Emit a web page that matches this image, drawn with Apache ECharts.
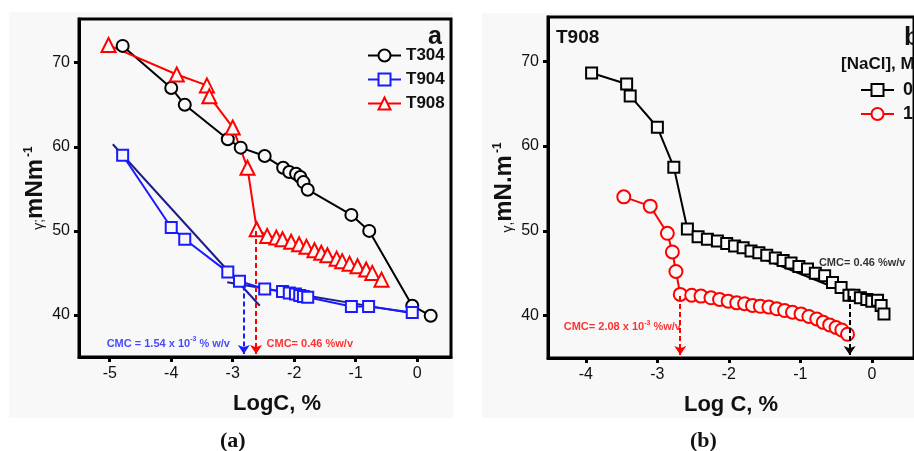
<!DOCTYPE html>
<html><head><meta charset="utf-8">
<script src="https://cdn.jsdelivr.net/npm/echarts@6/dist/echarts.min.js"></script>
<style>html,body{margin:0;padding:0;background:#fff}#c{width:914px;height:451px}</style>
</head><body><div id="c"></div>
<script>
const FONT = "'Liberation Sans', Arial, sans-serif";
const SERIF = "'Liberation Serif', 'DejaVu Serif', serif";
const BG = '#f8f8f8';

// ---------- tick values ----------
const aXTicks = [-5, -4, -3, -2, -1, 0];
const bXTicks = [-4, -3, -2, -1, 0];
const yTicks = [40, 50, 60, 70];

// ---------- panel (a) ----------
const t304X = [-4.79, -4.00, -3.78, -3.08, -2.87, -2.48, -2.18, -2.08, -1.97, -1.90, -1.85, -1.78, -1.07, -0.78, -0.08, 0.22];
const t304Y = [72.0, 67.0, 65.0, 60.9, 59.9, 58.9, 57.5, 57.0, 56.8, 56.4, 55.8, 54.9, 51.9, 50.0, 41.1, 39.9];

const t904X = [-4.79, -4.00, -3.78, -3.08, -2.89, -2.48, -2.19, -2.08, -1.98, -1.91, -1.85, -1.78, -1.07, -0.79, -0.08];
const t904Y = [59.0, 50.4, 49.0, 45.1, 44.0, 43.1, 42.8, 42.6, 42.5, 42.3, 42.2, 42.1, 41.0, 41.0, 40.3];

const t908X = [-5.02, -3.91, -3.42, -3.38, -3.00, -2.76, -2.61, -2.44, -2.29, -2.19, -2.05, -1.92, -1.80, -1.67, -1.56, -1.46, -1.31, -1.22, -1.10, -0.97, -0.83, -0.73, -0.58];
const t908Y = [72.1, 68.6, 67.3, 66.0, 62.3, 57.5, 50.2, 49.4, 49.2, 49.0, 48.7, 48.4, 48.1, 47.7, 47.4, 47.1, 46.7, 46.4, 46.1, 45.8, 45.4, 45.0, 44.2];

// fitted lines for T904
const fitSteepX = [-4.95, -2.56];
const fitSteepY = [60.3, 41.1];
const fitFlatX = [-3.09, 0.00];
const fitFlatY = [43.9, 40.1];

// CMC arrows (x, y start)
const aArrowBlue = [-2.82, 43.5];
const aArrowRed = [-2.62, 50.0];

// ---------- panel (b) ----------
const nacl0X = [-3.92, -3.43, -3.38, -3.00, -2.77, -2.58, -2.43, -2.30, -2.16, -2.03, -1.92, -1.80, -1.69, -1.58, -1.47, -1.35, -1.24, -1.13, -1.02, -0.90, -0.79, -0.66, -0.55, -0.43, -0.32, -0.25, -0.16, -0.07, 0.00, 0.08, 0.13, 0.17];
const nacl0Y = [68.6, 67.3, 65.9, 62.2, 57.5, 50.2, 49.3, 49.0, 48.8, 48.5, 48.2, 48.0, 47.6, 47.4, 47.1, 46.8, 46.5, 46.2, 45.8, 45.5, 45.0, 44.7, 43.9, 43.3, 42.4, 42.4, 42.1, 41.9, 41.7, 41.8, 41.2, 40.2];

const nacl1X = [-3.47, -3.10, -2.86, -2.79, -2.74, -2.68, -2.52, -2.39, -2.25, -2.13, -2.01, -1.89, -1.78, -1.67, -1.56, -1.44, -1.33, -1.22, -1.11, -0.99, -0.88, -0.77, -0.68, -0.59, -0.50, -0.42, -0.34];
const nacl1Y = [54.0, 52.9, 49.7, 47.5, 45.2, 42.5, 42.4, 42.3, 42.1, 41.9, 41.7, 41.5, 41.4, 41.2, 41.1, 41.0, 40.8, 40.6, 40.4, 40.2, 39.9, 39.6, 39.2, 38.9, 38.6, 38.3, 37.8];

const fitB0X = [-2.62, 0.19];
const fitB0Y = [50.4, 40.9];

const bArrowRed = [-2.68, 42.3];
const bArrowBlack = [-0.31, 42.3];

const yMin = 35, yMax = 75.2;

const zip = (xs, ys) => xs.map((x, i) => [x, ys[i]]);

function dataSeries(name, xs, ys, gi, color, symbol, size) {
  return {
    type: 'line', name, xAxisIndex: gi, yAxisIndex: gi,
    data: zip(xs, ys), symbol, symbolSize: size, showAllSymbol: true,
    lineStyle: { color, width: 2 },
    itemStyle: { color: BG, borderColor: color, borderWidth: 2 },
    z: 4
  };
}
function fitSeries(xs, ys, gi, color) {
  return {
    type: 'line', xAxisIndex: gi, yAxisIndex: gi, data: zip(xs, ys),
    symbol: 'none', lineStyle: { color, width: 2 }, z: 3, silent: true
  };
}
function arrowSeries(pt, gi, color) {
  return {
    type: 'line', xAxisIndex: gi, yAxisIndex: gi, data: [], symbol: 'none', silent: true,
    markLine: {
      silent: true, animation: false,
      symbol: ['none', 'arrow'], symbolSize: [9, 9],
      label: { show: false },
      lineStyle: { color, width: 2, type: [5, 3] },
      data: [[{ coord: [pt[0], pt[1]] }, { coord: [pt[0], yMin + 0.35] }]]
    }
  };
}
function noteSeries(x, y, gi, color, fmt) {
  return {
    type: 'scatter', xAxisIndex: gi, yAxisIndex: gi, data: [[x, y]],
    symbolSize: 0, silent: true, z: 6,
    label: {
      show: true, position: 'right', distance: 0, formatter: fmt,
      rich: {
        t: { fontFamily: FONT, fontWeight: 'bold', fontSize: 11, color, lineHeight: 14 },
        s: { fontFamily: FONT, fontWeight: 'bold', fontSize: 7, color, lineHeight: 14, padding: [0, 0, 8, 0] }
      }
    }
  };
}

const axisLineStyle = { color: '#000', width: 3 };
const tickStyle = { show: true, length: 5, lineStyle: { color: '#000', width: 3 } };
const labelStyle = { color: '#111', fontSize: 16, fontFamily: FONT, margin: 9 };

function xAxis(gi, min, max, ticks, name, nameShift) {
  return {
    type: 'value', gridIndex: gi, min, max,
    axisLine: { show: true, lineStyle: axisLineStyle, onZero: false },
    axisTick: { ...tickStyle, customValues: ticks },
    axisLabel: { ...labelStyle, customValues: ticks },
    splitLine: { show: false },
    name, nameLocation: 'middle', nameGap: 36,
    nameTextStyle: { fontFamily: FONT, fontWeight: 'bold', fontSize: 22, color: '#111', padding: [0, 0, 0, nameShift] }
  };
}
function yAxis(gi, nameFmt, nameRich) {
  return {
    type: 'value', gridIndex: gi, min: yMin, max: yMax,
    axisLine: { show: true, lineStyle: axisLineStyle, onZero: false },
    axisTick: { ...tickStyle, customValues: yTicks },
    axisLabel: { ...labelStyle, customValues: yTicks },
    splitLine: { show: false },
    name: nameFmt, nameLocation: 'middle', nameGap: 29, nameRotate: 90,
    nameTextStyle: { rich: nameRich }
  };
}
const yNameRich = {
  g: { fontFamily: FONT, fontSize: 14, color: '#111', lineHeight: 24, verticalAlign: 'bottom', padding: [0, 0, 1, 0] },
  b: { fontFamily: FONT, fontWeight: 'bold', fontSize: 24, color: '#111', lineHeight: 24 },
  s: { fontFamily: FONT, fontWeight: 'bold', fontSize: 12, color: '#111', lineHeight: 24, padding: [0, 0, 14, 2] }
};
const capRich = {
  p: { fontFamily: SERIF, fontSize: 22, color: '#111' },
  l: { fontFamily: SERIF, fontWeight: 'bold', fontSize: 22, color: '#111' }
};

const chart = echarts.init(document.getElementById('c'), null, { renderer: 'canvas' });
chart.setOption({
  animation: false,
  backgroundColor: '#fff',
  graphic: [
    { type: 'rect', shape: { x: 9, y: 12, width: 444, height: 406 }, style: { fill: BG }, z: -10 },
    { type: 'rect', shape: { x: 482, y: 13, width: 440, height: 405 }, style: { fill: BG }, z: -10 }
  ],
  title: [
    { text: 'a', left: 428, top: 25, padding: 0, textStyle: { fontFamily: FONT, fontWeight: 'bold', fontSize: 25, color: '#111' } },
    { text: 'T908', left: 556, top: 28, padding: 0, textStyle: { fontFamily: FONT, fontWeight: 'bold', fontSize: 19, color: '#111' } },
    { text: 'b', left: 904, top: 25, padding: 0, textStyle: { fontFamily: FONT, fontWeight: 'bold', fontSize: 26, color: '#111' } },
    { text: '[NaCl], M', left: 841, top: 56, padding: 0, textStyle: { fontFamily: FONT, fontWeight: 'bold', fontSize: 17, color: '#111' } },
    { text: '{p|(}{l|a}{p|)}', left: 220, top: 430, padding: 0, textStyle: { rich: capRich } },
    { text: '{p|(}{l|b}{p|)}', left: 690, top: 430, padding: 0, textStyle: { rich: capRich } }
  ],
  legend: [
    { data: ['T304', 'T904', 'T908'], orient: 'vertical', left: 367, top: 47, padding: 0,
      itemWidth: 33, itemHeight: 15, itemGap: 7, selectedMode: false,
      textStyle: { fontFamily: FONT, fontWeight: 'bold', fontSize: 17, color: '#111' } },
    { data: ['0', '1'], orient: 'vertical', left: 860, top: 81, padding: 0,
      itemWidth: 33, itemHeight: 15, itemGap: 6, selectedMode: false,
      textStyle: { fontFamily: FONT, fontWeight: 'bold', fontSize: 18, color: '#111', padding: [0, 0, 0, 4] } }
  ],
  grid: [
    { left: 79, top: 19, width: 372, height: 338, show: true, backgroundColor: BG, borderColor: '#000', borderWidth: 3 },
    { left: 548, top: 17, width: 380, height: 341, show: true, backgroundColor: BG, borderColor: '#000', borderWidth: 3 }
  ],
  xAxis: [
    xAxis(0, -5.5, 0.55, aXTicks, 'LogC, %', 24),
    xAxis(1, -4.53, 0.59, bXTicks, 'Log C, %', 0)
  ],
  yAxis: [
    yAxis(0, '{g|γ;}{b|mNm}{s|-1}', yNameRich),
    yAxis(1, '{g|γ,}{b|mN.m}{s|-1}', yNameRich)
  ],
  series: [
    fitSeries(fitSteepX, fitSteepY, 0, '#1c1c8c'),
    fitSeries(fitFlatX, fitFlatY, 0, '#1c1c8c'),
    dataSeries('T304', t304X, t304Y, 0, '#000', 'circle', 12),
    dataSeries('T904', t904X, t904Y, 0, '#1a1aff', 'rect', 11),
    dataSeries('T908', t908X, t908Y, 0, '#ff0000', 'triangle', 14),
    arrowSeries(aArrowBlue, 0, '#1a1aff'),
    arrowSeries(aArrowRed, 0, '#ff0000'),
    noteSeries(-5.05, 36.6, 0, '#1a1aff', '{t|CMC = 1.54 x 10}{s|-3}{t| % w/v}'),
    noteSeries(-2.45, 36.6, 0, '#ff0000', '{t|CMC= 0.46 %w/v}'),

    fitSeries(fitB0X, fitB0Y, 1, '#000'),
    dataSeries('0', nacl0X, nacl0Y, 1, '#000', 'rect', 11),
    dataSeries('1', nacl1X, nacl1Y, 1, '#ff0000', 'circle', 13),
    arrowSeries(bArrowRed, 1, '#ff0000'),
    arrowSeries(bArrowBlack, 1, '#000'),
    noteSeries(-4.31, 38.6, 1, '#ff0000', '{t|CMC= 2.08 x 10}{s|-3}{t| %w/v}'),
    noteSeries(-0.74, 46.25, 1, '#000', '{t|CMC= 0.46 %w/v}')
  ]
});
</script></body></html>
